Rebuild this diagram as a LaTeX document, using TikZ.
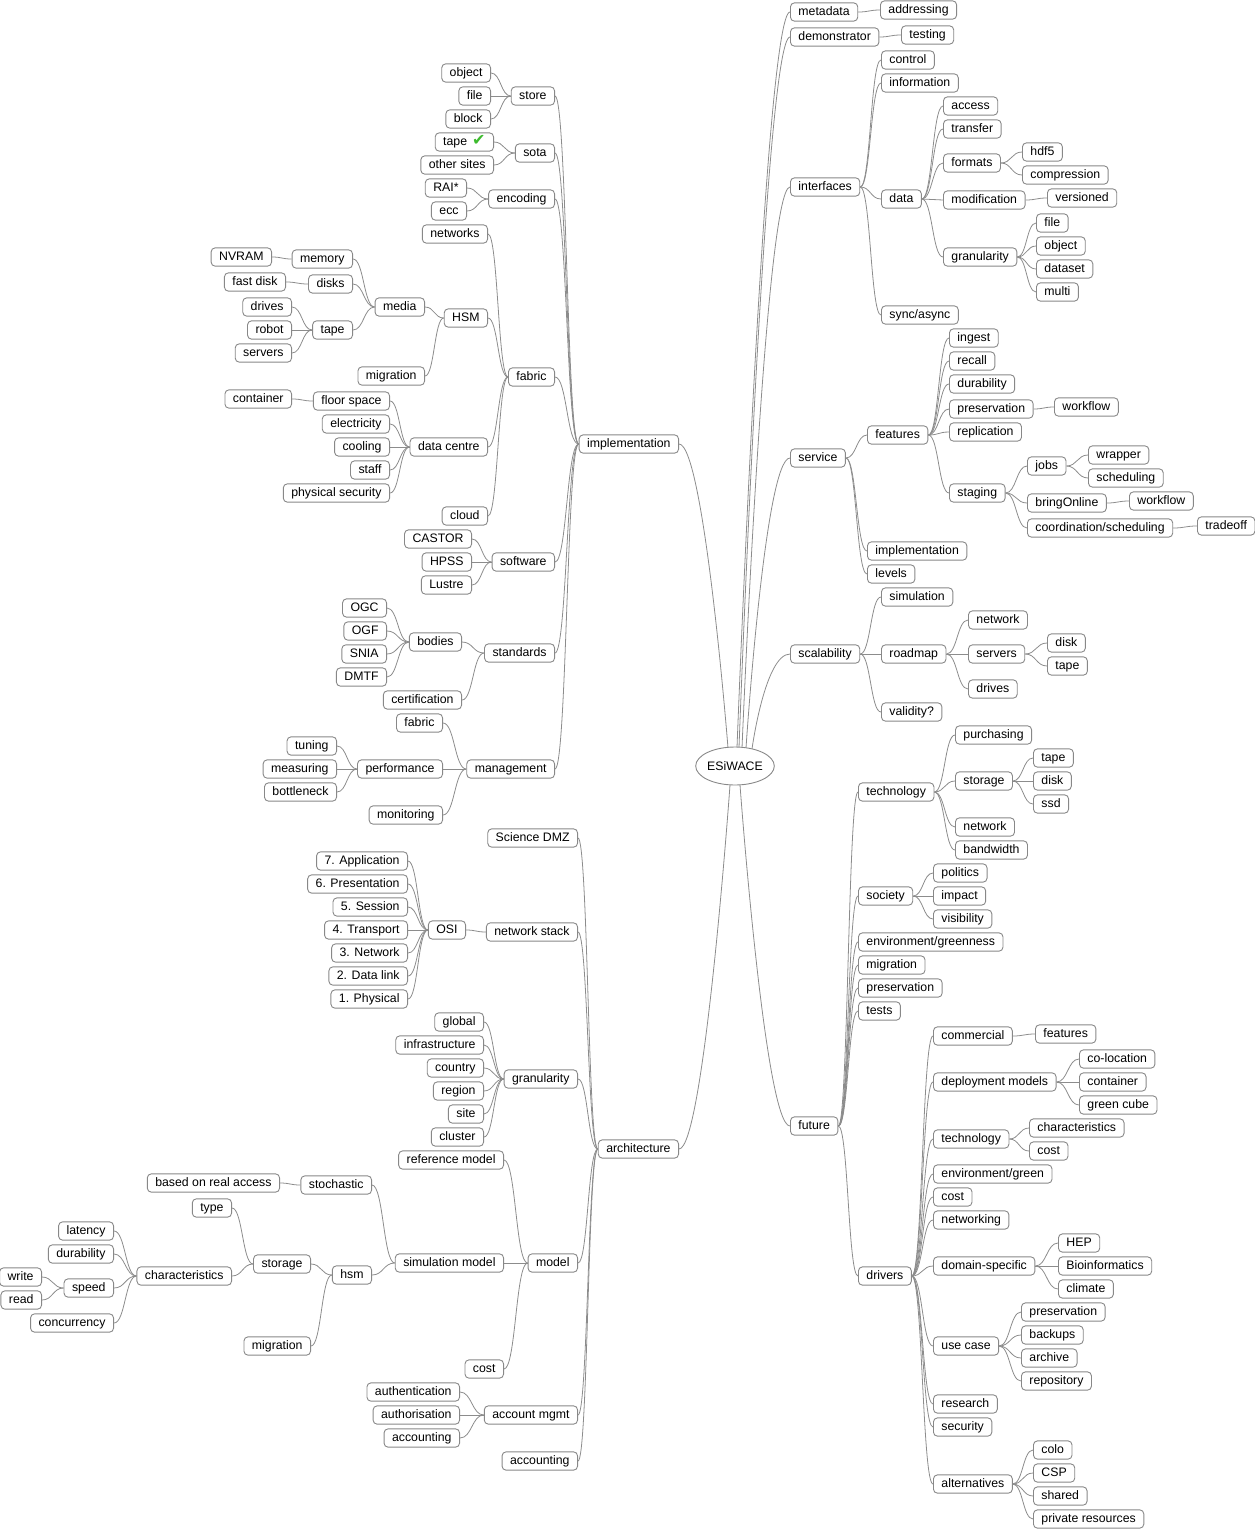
\documentclass[tikz,border=0pt]{standalone}
\usepackage{fontspec}
\setmainfont{Liberation Sans}
\newfontfamily\symfont{DejaVu Sans}
\usetikzlibrary{calc,backgrounds,shapes.geometric}
\definecolor{bordergray}{HTML}{888888}
\definecolor{linegray}{HTML}{8C8C8C}
\definecolor{checkgreen}{HTML}{3DBB2E}
\tikzset{
  mmnode/.style={draw=bordergray, fill=white, rounded corners=4pt, line width=0.9pt,
    inner xsep=8pt, inner ysep=3.4pt, text height=8.9pt, text depth=2.6pt,
    font=\fontsize{12.3}{14}\selectfont},
  lnode/.style={mmnode, anchor=east},
  rnode/.style={mmnode, anchor=west},
  rootnode/.style={draw=bordergray, fill=white, ellipse, line width=0.9pt,
    minimum width=72pt, minimum height=38pt, inner sep=0pt, font=\fontsize{12.3}{14}\selectfont},
  conn/.style={draw=linegray, line width=0.8pt},
}
\newcommand\lnk[2]{\draw[conn] let \p1=(#1), \p2=(#2), \n1={(\x2-\x1)/2} in (\p1) .. controls +(\n1,0) and +(-\n1,0) .. (\p2);}
\newcommand\Lk[2]{\foreach \nd in {#2} {\lnk{\nd.east}{#1.west}}}
\newcommand\Rk[2]{\foreach \nd in {#2} {\lnk{#1.east}{\nd.west}}}
\begin{document}
\begin{tikzpicture}[x=1pt,y=-1pt]
\useasboundingbox (0,0) rectangle (1254,1529);
% root
\node[rootnode] (ROOT) at (735,766) {ESiWACE};
% ================= LEFT: implementation
\node[lnode] (IMP) at (679,444) {implementation};
\node[lnode] (ST) at (555,96) {store};
\node[lnode] (SO) at (555,153) {sota};
\node[lnode] (EN) at (555,199) {encoding};
\node[lnode] (FA) at (555,377) {fabric};
\node[lnode] (SW) at (555,562) {software};
\node[lnode] (SD) at (555,653) {standards};
\node[lnode] (MG) at (555,769) {management};
\node[lnode] (st1) at (491,73) {object};
\node[lnode] (st2) at (491,96) {file};
\node[lnode] (st3) at (491,119) {block};
\node[lnode] (so1) at (494,142) {tape\hspace{5pt}{\symfont\color{checkgreen}\fontsize{16}{16}\selectfont ✔}};
\node[lnode] (so2) at (494,165) {other sites};
\node[lnode] (en1) at (467,188) {RAI*};
\node[lnode] (en2) at (467,211) {ecc};
\node[lnode] (fa1) at (488,234) {networks};
\node[lnode] (fa2) at (488,318) {HSM};
\node[lnode] (fa3) at (488,447) {data centre};
\node[lnode] (fa4) at (488,516) {cloud};
\node[lnode] (hs1) at (425,307) {media};
\node[lnode] (hs2) at (425,376) {migration};
\node[lnode] (me1) at (353,259) {memory};
\node[lnode] (me2) at (353,284) {disks};
\node[lnode] (me3) at (353,330) {tape};
\node[lnode] (mem1) at (272,257) {NVRAM};
\node[lnode] (dk1) at (286,282) {fast disk};
\node[lnode] (tp1) at (292,307) {drives};
\node[lnode] (tp2) at (292,330) {robot};
\node[lnode] (tp3) at (292,353) {servers};
\node[lnode] (dc1) at (390,401) {floor space};
\node[lnode] (dc2) at (390,424) {electricity};
\node[lnode] (dc3) at (390,447) {cooling};
\node[lnode] (dc4) at (390,470) {staff};
\node[lnode] (dc5) at (390,493) {physical security};
\node[lnode] (fs1) at (292,399) {container};
\node[lnode] (sw1) at (472,539) {CASTOR};
\node[lnode] (sw2) at (472,562) {HPSS};
\node[lnode] (sw3) at (472,585) {Lustre};
\node[lnode] (sd1) at (462,642) {bodies};
\node[lnode] (sd2) at (462,700) {certification};
\node[lnode] (bd1) at (387,608) {OGC};
\node[lnode] (bd2) at (387,631) {OGF};
\node[lnode] (bd3) at (387,654) {SNIA};
\node[lnode] (bd4) at (387,677) {DMTF};
\node[lnode] (mg1) at (443,723) {fabric};
\node[lnode] (mg2) at (443,769) {performance};
\node[lnode] (mg3) at (443,815) {monitoring};
\node[lnode] (pf1) at (337,746) {tuning};
\node[lnode] (pf2) at (337,769) {measuring};
\node[lnode] (pf3) at (337,792) {bottleneck};
% ================= LEFT: architecture
\node[lnode] (AR) at (679,1149) {architecture};
\node[lnode] (ar1) at (578,838) {Science DMZ};
\node[lnode] (ar2) at (578,932) {network stack};
\node[lnode] (ar3) at (578,1079) {granularity};
\node[lnode] (ar4) at (578,1263) {model};
\node[lnode] (ar5) at (578,1415) {account mgmt};
\node[lnode] (ar6) at (578,1461) {accounting};
\node[lnode] (ns1) at (466,930) {OSI};
\node[lnode] (os1) at (408,861) {7. Application};
\node[lnode] (os2) at (408,884) {6. Presentation};
\node[lnode] (os3) at (408,907) {5. Session};
\node[lnode] (os4) at (408,930) {4. Transport};
\node[lnode] (os5) at (408,953) {3. Network};
\node[lnode] (os6) at (408,976) {2. Data link};
\node[lnode] (os7) at (408,999) {1. Physical};
\node[lnode] (gr1) at (484,1022) {global};
\node[lnode] (gr2) at (484,1045) {infrastructure};
\node[lnode] (gr3) at (484,1068) {country};
\node[lnode] (gr4) at (484,1091) {region};
\node[lnode] (gr5) at (484,1114) {site};
\node[lnode] (gr6) at (484,1137) {cluster};
\node[lnode] (mo1) at (504,1160) {reference model};
\node[lnode] (mo2) at (504,1263) {simulation model};
\node[lnode] (mo3) at (504,1369) {cost};
\node[lnode] (sm1) at (372,1185) {stochastic};
\node[lnode] (sm2) at (372,1275) {hsm};
\node[lnode] (sto1) at (280,1183) {based on real access};
\node[lnode] (hm1) at (311,1264) {storage};
\node[lnode] (hm2) at (311,1346) {migration};
\node[lnode] (sg1) at (232,1208) {type};
\node[lnode] (sg2) at (232,1276) {characteristics};
\node[lnode] (ch1) at (114,1231) {latency};
\node[lnode] (ch2) at (114,1254) {durability};
\node[lnode] (ch3) at (114,1288) {speed};
\node[lnode] (ch4) at (114,1323) {concurrency};
\node[lnode] (sp1) at (42,1277) {write};
\node[lnode] (sp2) at (42,1300) {read};
\node[lnode] (am1) at (460,1392) {authentication};
\node[lnode] (am2) at (460,1415) {authorisation};
\node[lnode] (am3) at (460,1438) {accounting};
% ================= RIGHT
\node[rnode] (MD) at (790,12) {metadata};
\node[rnode] (md1) at (880,10) {addressing};
\node[rnode] (DM) at (790,37) {demonstrator};
\node[rnode] (dm1) at (901,35) {testing};
\node[rnode] (IF) at (790,187) {interfaces};
\node[rnode] (if1) at (881,60) {control};
\node[rnode] (if2) at (881,83) {information};
\node[rnode] (if3) at (881,199) {data};
\node[rnode] (if4) at (881,315) {sync/async};
\node[rnode] (da1) at (943,106) {access};
\node[rnode] (da2) at (943,129) {transfer};
\node[rnode] (da3) at (943,163) {formats};
\node[rnode] (da4) at (943,200) {modification};
\node[rnode] (da5) at (943,257) {granularity};
\node[rnode] (fo1) at (1022,152) {hdf5};
\node[rnode] (fo2) at (1022,175) {compression};
\node[rnode] (mod1) at (1047,198) {versioned};
\node[rnode] (dg1) at (1036,223) {file};
\node[rnode] (dg2) at (1036,246) {object};
\node[rnode] (dg3) at (1036,269) {dataset};
\node[rnode] (dg4) at (1036,292) {multi};
\node[rnode] (SV) at (790,458) {service};
\node[rnode] (sv1) at (867,435) {features};
\node[rnode] (sv2) at (867,551) {implementation};
\node[rnode] (sv3) at (867,574) {levels};
\node[rnode] (fe1) at (949,338) {ingest};
\node[rnode] (fe2) at (949,361) {recall};
\node[rnode] (fe3) at (949,384) {durability};
\node[rnode] (fe4) at (949,409) {preservation};
\node[rnode] (fe5) at (949,432) {replication};
\node[rnode] (fe6) at (949,493) {staging};
\node[rnode] (pr1) at (1054,407) {workflow};
\node[rnode] (sta1) at (1027,466) {jobs};
\node[rnode] (sta2) at (1027,503) {bringOnline};
\node[rnode] (sta3) at (1027,528) {coordination/scheduling};
\node[rnode] (jb1) at (1088,455) {wrapper};
\node[rnode] (jb2) at (1088,478) {scheduling};
\node[rnode] (bn1) at (1129,501) {workflow};
\node[rnode] (co1) at (1197,526) {tradeoff};
\node[rnode] (SC) at (790,654) {scalability};
\node[rnode] (sc1) at (881,597) {simulation};
\node[rnode] (sc2) at (881,654) {roadmap};
\node[rnode] (sc3) at (881,712) {validity?};
\node[rnode] (rm1) at (968,620) {network};
\node[rnode] (rm2) at (968,654) {servers};
\node[rnode] (rm3) at (968,689) {drives};
\node[rnode] (se1) at (1047,643) {disk};
\node[rnode] (se2) at (1047,666) {tape};
\node[rnode] (FU) at (790,1126) {future};
\node[rnode] (fu1) at (858,792) {technology};
\node[rnode] (fu2) at (858,896) {society};
\node[rnode] (fu3) at (858,942) {environment/greenness};
\node[rnode] (fu4) at (858,965) {migration};
\node[rnode] (fu5) at (858,988) {preservation};
\node[rnode] (fu6) at (858,1011) {tests};
\node[rnode] (fu7) at (858,1276) {drivers};
\node[rnode] (te1) at (955,735) {purchasing};
\node[rnode] (te2) at (955,781) {storage};
\node[rnode] (te3) at (955,827) {network};
\node[rnode] (te4) at (955,850) {bandwidth};
\node[rnode] (ts1) at (1033,758) {tape};
\node[rnode] (ts2) at (1033,781) {disk};
\node[rnode] (ts3) at (1033,804) {ssd};
\node[rnode] (soc1) at (933,873) {politics};
\node[rnode] (soc2) at (933,896) {impact};
\node[rnode] (soc3) at (933,919) {visibility};
\node[rnode] (dr1) at (933,1036) {commercial};
\node[rnode] (dr2) at (933,1082) {deployment models};
\node[rnode] (dr3) at (933,1139) {technology};
\node[rnode] (dr4) at (933,1174) {environment/green};
\node[rnode] (dr5) at (933,1197) {cost};
\node[rnode] (dr6) at (933,1220) {networking};
\node[rnode] (dr7) at (933,1266) {domain-specific};
\node[rnode] (dr8) at (933,1346) {use case};
\node[rnode] (dr9) at (933,1404) {research};
\node[rnode] (dr10) at (933,1427) {security};
\node[rnode] (dr11) at (933,1484) {alternatives};
\node[rnode] (cm1) at (1035,1034) {features};
\node[rnode] (dp1) at (1079,1059) {co-location};
\node[rnode] (dp2) at (1079,1082) {container};
\node[rnode] (dp3) at (1079,1105) {green cube};
\node[rnode] (dt1) at (1029,1128) {characteristics};
\node[rnode] (dt2) at (1029,1151) {cost};
\node[rnode] (ds1) at (1058,1243) {HEP};
\node[rnode] (ds2) at (1058,1266) {Bioinformatics};
\node[rnode] (ds3) at (1058,1289) {climate};
\node[rnode] (uc1) at (1021,1312) {preservation};
\node[rnode] (uc2) at (1021,1335) {backups};
\node[rnode] (uc3) at (1021,1358) {archive};
\node[rnode] (uc4) at (1021,1381) {repository};
\node[rnode] (al1) at (1033,1450) {colo};
\node[rnode] (al2) at (1033,1473) {CSP};
\node[rnode] (al3) at (1033,1496) {shared};
\node[rnode] (al4) at (1033,1519) {private resources};
% root attachment points
\coordinate (rIMP) at (728,748);
\coordinate (rMD) at (737,747.5);
\coordinate (rDM) at (739,747.5);
\coordinate (rIF) at (742,748);
\coordinate (rSV) at (746,748);
\coordinate (rSC) at (752,749);
\coordinate (rAR) at (730,785);
\coordinate (rFU) at (740,785);
\begin{pgfonlayer}{background}
\draw[conn] (IMP.east) .. controls +(25,0) and (rIMP) .. (rIMP);
\draw[conn] (AR.east) .. controls +(25,0) and (rAR) .. (rAR);
\draw[conn] (rMD) .. controls (rMD) and +(-25,0) .. (MD.west);
\draw[conn] (rDM) .. controls (rDM) and +(-25,0) .. (DM.west);
\draw[conn] (rIF) .. controls (rIF) and +(-25,0) .. (IF.west);
\draw[conn] (rSV) .. controls (rSV) and +(-25,0) .. (SV.west);
\draw[conn] (rSC) .. controls (rSC) and +(-25,0) .. (SC.west);
\draw[conn] (rFU) .. controls (rFU) and +(-25,0) .. (FU.west);
% left
\Lk{IMP}{ST,SO,EN,FA,SW,SD,MG}
\Lk{ST}{st1,st2,st3}
\Lk{SO}{so1,so2}
\Lk{EN}{en1,en2}
\Lk{FA}{fa1,fa2,fa3,fa4}
\Lk{fa2}{hs1,hs2}
\Lk{hs1}{me1,me2,me3}
\Lk{me1}{mem1}
\Lk{me2}{dk1}
\Lk{me3}{tp1,tp2,tp3}
\Lk{fa3}{dc1,dc2,dc3,dc4,dc5}
\Lk{dc1}{fs1}
\Lk{SW}{sw1,sw2,sw3}
\Lk{SD}{sd1,sd2}
\Lk{sd1}{bd1,bd2,bd3,bd4}
\Lk{MG}{mg1,mg2,mg3}
\Lk{mg2}{pf1,pf2,pf3}
\Lk{AR}{ar1,ar2,ar3,ar4,ar5,ar6}
\Lk{ar2}{ns1}
\Lk{ns1}{os1,os2,os3,os4,os5,os6,os7}
\Lk{ar3}{gr1,gr2,gr3,gr4,gr5,gr6}
\Lk{ar4}{mo1,mo2,mo3}
\Lk{mo2}{sm1,sm2}
\Lk{sm1}{sto1}
\Lk{sm2}{hm1,hm2}
\Lk{hm1}{sg1,sg2}
\Lk{sg2}{ch1,ch2,ch3,ch4}
\Lk{ch3}{sp1,sp2}
\Lk{ar5}{am1,am2,am3}
% right
\Rk{MD}{md1}
\Rk{DM}{dm1}
\Rk{IF}{if1,if2,if3,if4}
\Rk{if3}{da1,da2,da3,da4,da5}
\Rk{da3}{fo1,fo2}
\Rk{da4}{mod1}
\Rk{da5}{dg1,dg2,dg3,dg4}
\Rk{SV}{sv1,sv2,sv3}
\Rk{sv1}{fe1,fe2,fe3,fe4,fe5,fe6}
\Rk{fe4}{pr1}
\Rk{fe6}{sta1,sta2,sta3}
\Rk{sta1}{jb1,jb2}
\Rk{sta2}{bn1}
\Rk{sta3}{co1}
\Rk{SC}{sc1,sc2,sc3}
\Rk{sc2}{rm1,rm2,rm3}
\Rk{rm2}{se1,se2}
\Rk{FU}{fu1,fu2,fu3,fu4,fu5,fu6,fu7}
\Rk{fu1}{te1,te2,te3,te4}
\Rk{te2}{ts1,ts2,ts3}
\Rk{fu2}{soc1,soc2,soc3}
\Rk{fu7}{dr1,dr2,dr3,dr4,dr5,dr6,dr7,dr8,dr9,dr10,dr11}
\Rk{dr1}{cm1}
\Rk{dr2}{dp1,dp2,dp3}
\Rk{dr3}{dt1,dt2}
\Rk{dr7}{ds1,ds2,ds3}
\Rk{dr8}{uc1,uc2,uc3,uc4}
\Rk{dr11}{al1,al2,al3,al4}
\end{pgfonlayer}
\end{tikzpicture}
\end{document}
